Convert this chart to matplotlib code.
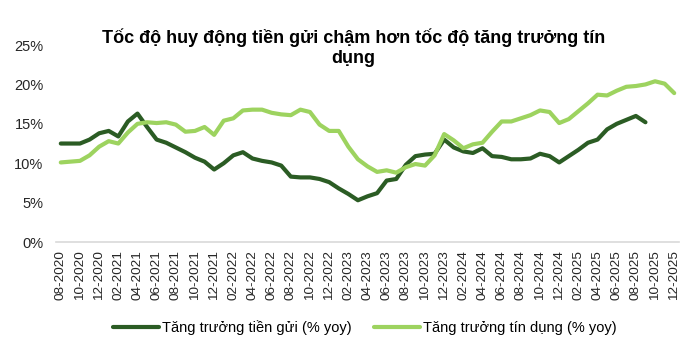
import matplotlib.pyplot as plt
from matplotlib.ticker import PercentFormatter

plt.rcParams['font.family'] = ['Liberation Sans', 'DejaVu Sans']

# months from 08-2020 to 12-2025
months = []
for y in range(2020, 2026):
    for m in range(1, 13):
        if (y == 2020 and m < 8):
            continue
        months.append(f"{m:02d}-{y}")

deposit = [12.5, 12.5, 12.5, 13.0, 13.8, 14.1, 13.4, 15.3, 16.3, 14.6,
           13.0, 12.6, 12.0, 11.4, 10.7, 10.2, 9.2, 10.0, 11.0, 11.4,
           10.6, 10.3, 10.1, 9.7, 8.3, 8.2, 8.2, 8.0, 7.6, 6.8,
           6.1, 5.3, 5.8, 6.2, 7.8, 8.0, 9.8, 10.9, 11.1, 11.2,
           13.0, 12.0, 11.5, 11.3, 11.9, 10.9, 10.8, 10.5, 10.5, 10.6,
           11.2, 10.9, 10.1, 10.9, 11.7, 12.6, 13.0, 14.3, 15.0, 15.5,
           16.0, 15.2]

credit = [10.1, 10.2, 10.3, 11.0, 12.1, 12.8, 12.5, 13.9, 15.0, 15.2,
          15.1, 15.2, 14.9, 14.0, 14.1, 14.6, 13.6, 15.4, 15.7, 16.7,
          16.8, 16.8, 16.4, 16.2, 16.1, 16.8, 16.5, 14.9, 14.1, 14.1,
          12.1, 10.5, 9.6, 8.9, 9.1, 8.8, 9.5, 9.9, 9.7, 11.0,
          13.7, 12.9, 11.9, 12.4, 12.6, 14.0, 15.3, 15.3, 15.7, 16.1,
          16.7, 16.5, 15.1, 15.6, 16.6, 17.6, 18.7, 18.6, 19.2, 19.7,
          19.8, 20.0, 20.4, 20.1, 18.9]

dark = "#2B5C24"
light = "#9DD35F"

fig = plt.figure(figsize=(7, 3.53), dpi=100)
ax = fig.add_axes([0.08, 0.3144, 0.89, 0.558])

ax.plot(range(len(deposit)), deposit, color=dark, lw=3,
        solid_capstyle="round", label="Tăng trưởng tiền gửi (% yoy)")
ax.plot(range(len(credit)), credit, color=light, lw=3,
        solid_capstyle="round", label="Tăng trưởng tín dụng (% yoy)")

ax.set_xlim(-0.5, len(months) - 0.5)
ax.set_ylim(0, 25)
ax.set_yticks(range(0, 26, 5))
ax.yaxis.set_major_formatter(PercentFormatter(decimals=0))
ax.set_xticks(range(0, len(months), 2))
ax.set_xticklabels(months[::2], rotation=90)
ax.tick_params(axis="x", length=0, labelsize=9.7, pad=6, colors="#262626")
ax.tick_params(axis="y", length=0, labelsize=10.5, pad=9, colors="#262626")

for s in ["top", "right", "left"]:
    ax.spines[s].set_visible(False)
ax.spines["bottom"].set_color("#d9d9d9")
ax.spines["bottom"].set_linewidth(1.2)

fig.text(0.505, 0.866, "Tốc độ huy động tiền gửi chậm hơn tốc độ tăng trưởng tín\ndụng",
         ha="center", va="center", fontsize=13, fontweight="bold",
         linespacing=1.25)

fig.legend(loc="center", bbox_to_anchor=(0.521, 0.073), ncol=2, frameon=False,
           fontsize=10.5, handlelength=3.2, handletextpad=0.2, columnspacing=1.5)

plt.savefig("out.png", dpi=100)
